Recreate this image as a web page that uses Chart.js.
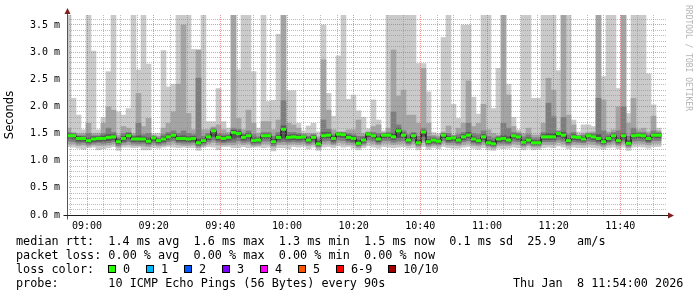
<!DOCTYPE html>
<html>
<head>
<meta charset="utf-8">
<script src="https://cdn.jsdelivr.net/npm/chart.js@4/dist/chart.umd.min.js"></script>
<style>
  html, body { margin: 0; padding: 0; background: #fff; }
  #wrap { position: relative; width: 697px; height: 297px; overflow: hidden; background: #fff; }
  #c { position: absolute; left: 0; top: 0; }
  .txt { position: absolute; font-family: 'DejaVu Sans Mono', monospace; font-size: 11.8px; line-height: 14px; color: #000; white-space: pre; }
  .sq { position: absolute; width: 6px; height: 6px; border: 1px solid #000; }
  #rrd { position: absolute; left: 693px; top: 5px; transform: rotate(90deg); transform-origin: 0 0;
         font-family: 'DejaVu Sans Mono', monospace; font-size: 8px; line-height: 10px; color: #b4b4b4; white-space: pre; }
</style>
</head>
<body>
<div id="wrap">
  <canvas id="c" width="697" height="297"></canvas>
  <div class="txt" style="left:16px;top:234px">median rtt:  1.4 ms avg  1.6 ms max  1.3 ms min  1.5 ms now  0.1 ms sd  25.9   am/s</div>
  <div class="txt" style="left:16px;top:248px">packet loss: 0.00 % avg  0.00 % max  0.00 % min  0.00 % now</div>
  <div class="txt" style="left:16px;top:262px">loss color:</div>
  <div id="losslegend"></div>
  <div class="txt" style="left:16px;top:276px">probe:       10 ICMP Echo Pings (56 Bytes) every 90s</div>
  <div class="txt" style="left:513px;top:276px">Thu Jan  8 11:54:00 2026</div>
  <div id="rrd">RRDTOOL / TOBI OETIKER</div>
</div>
<script>
// time axis: minutes after 08:54, one sample every 90 s
const START = '08:54';
const firstStepStart = -0.3;
const stepMin = 1.5;

// sorted ping values per step (ms): max, 9th, 8th, 7th, median, 4th, 3rd, 2nd, min
const pMax = [3.8,2.15,1.84,1.57,3.8,3.02,1.57,1.80,2.64,3.8,
  1.90,1.84,1.96,3.8,2.67,3.8,2.78,1.50,1.50,3.03,
  2.36,2.41,3.8,3.8,3.8,3.05,3.04,3.8,1.72,1.72,
  2.33,1.72,1.60,3.8,2.67,3.8,3.8,2.64,1.60,3.8,
  2.09,2.11,3.33,3.8,2.29,2.29,1.69,1.55,1.64,1.69,
  1.53,3.50,2.24,1.82,2.93,3.8,2.13,2.21,1.92,1.80,
  1.59,2.12,1.75,1.55,3.8,3.8,3.8,3.8,3.8,3.8,
  2.79,2.79,2.27,1.52,1.50,3.27,3.8,2.04,1.78,3.50,
  3.50,2.17,1.86,3.8,3.8,1.96,2.70,3.8,2.41,1.80,
  1.57,3.8,3.8,2.15,2.15,3.8,3.8,3.8,2.66,3.8,
  3.8,1.75,1.53,1.66,1.66,1.63,3.8,2.55,3.8,3.8,
  2.33,3.8,1.87,3.8,3.8,3.8,2.60,2.03,1.60];
const p9 = [1.60,1.52,1.50,1.50,1.69,1.50,1.50,1.69,1.99,1.93,
  1.47,1.63,1.60,1.50,2.24,1.63,1.78,1.47,1.45,1.60,
  1.69,1.90,2.41,3.50,1.87,1.57,3.04,1.57,1.57,1.62,
  1.66,1.57,1.52,3.8,1.78,1.57,1.93,1.69,1.50,1.72,
  1.72,1.57,1.75,3.8,1.69,1.66,1.60,1.50,1.50,1.50,
  1.44,2.86,1.93,1.57,1.53,1.53,1.57,1.57,1.75,1.50,
  1.53,1.63,1.66,1.52,1.60,3.04,2.19,2.30,1.84,1.84,
  1.69,2.70,1.69,1.47,1.45,1.53,1.64,1.47,1.60,1.69,
  2.47,1.63,1.69,2.04,1.57,1.50,1.47,3.8,2.21,1.63,
  1.53,1.50,1.60,1.47,1.47,1.69,2.52,2.30,1.56,3.8,
  1.84,1.66,1.47,1.50,1.52,1.53,3.8,2.12,1.53,1.57,
  1.99,3.8,1.69,2.15,1.57,1.60,1.53,1.82,1.55];
const p8 = [1.52,1.50,1.46,1.46,1.50,1.46,1.46,1.50,1.60,1.52,
  1.42,1.50,1.52,1.46,1.69,1.48,1.50,1.45,1.42,1.48,
  1.52,1.55,1.50,1.55,1.50,1.48,2.52,1.45,1.50,1.60,
  1.50,1.48,1.48,1.60,1.58,1.50,1.55,1.48,1.44,1.52,
  1.52,1.45,1.52,2.11,1.52,1.52,1.50,1.48,1.45,1.48,
  1.40,1.75,1.58,1.48,1.52,1.52,1.50,1.48,1.45,1.45,
  1.52,1.52,1.50,1.50,1.52,1.90,1.66,1.55,1.48,1.52,
  1.45,1.60,1.45,1.44,1.42,1.50,1.50,1.46,1.48,1.52,
  1.69,1.50,1.48,1.55,1.45,1.42,1.45,1.69,1.60,1.52,
  1.50,1.44,1.48,1.42,1.42,1.52,2.06,1.81,1.54,1.80,
  1.48,1.52,1.46,1.47,1.50,1.50,2.15,1.55,1.48,1.52,
  1.55,1.99,1.45,1.60,1.52,1.52,1.48,1.55,1.52];
const p7 = [1.50,1.49,1.45,1.44,1.42,1.44,1.44,1.46,1.48,1.48,
  1.40,1.45,1.50,1.44,1.46,1.44,1.42,1.44,1.40,1.44,
  1.48,1.50,1.45,1.46,1.44,1.45,1.40,1.41,1.47,1.57,
  1.46,1.45,1.46,1.56,1.54,1.47,1.50,1.42,1.41,1.49,
  1.49,1.40,1.47,1.64,1.47,1.48,1.47,1.46,1.42,1.46,
  1.36,1.52,1.52,1.45,1.51,1.50,1.47,1.45,1.38,1.42,
  1.51,1.49,1.44,1.49,1.50,1.50,1.60,1.51,1.42,1.50,
  1.38,1.56,1.39,1.41,1.39,1.50,1.45,1.44,1.42,1.48,
  1.52,1.44,1.41,1.48,1.38,1.36,1.43,1.46,1.44,1.49,
  1.47,1.38,1.42,1.37,1.37,1.48,1.50,1.50,1.52,1.52,
  1.41,1.48,1.45,1.43,1.48,1.47,1.48,1.40,1.44,1.49,
  1.42,1.50,1.37,1.50,1.50,1.49,1.44,1.50,1.50];
const median = [1.46,1.46,1.41,1.41,1.37,1.40,1.41,1.41,1.43,1.44,
  1.35,1.41,1.46,1.40,1.40,1.40,1.36,1.42,1.37,1.40,
  1.44,1.47,1.41,1.41,1.40,1.41,1.33,1.37,1.44,1.55,
  1.43,1.41,1.43,1.52,1.50,1.43,1.46,1.37,1.38,1.46,
  1.46,1.35,1.43,1.58,1.43,1.44,1.43,1.44,1.38,1.43,
  1.31,1.46,1.47,1.41,1.49,1.48,1.43,1.41,1.32,1.38,
  1.49,1.46,1.40,1.47,1.47,1.44,1.55,1.47,1.38,1.46,
  1.33,1.53,1.35,1.38,1.36,1.47,1.41,1.42,1.38,1.44,
  1.47,1.40,1.37,1.44,1.33,1.31,1.40,1.41,1.38,1.46,
  1.44,1.34,1.38,1.33,1.33,1.44,1.44,1.44,1.50,1.47,
  1.37,1.44,1.43,1.40,1.46,1.44,1.41,1.35,1.41,1.46,
  1.37,1.46,1.32,1.46,1.47,1.46,1.41,1.47,1.47];
const p4 = [1.41,1.40,1.36,1.36,1.33,1.35,1.36,1.36,1.37,1.39,
  1.31,1.36,1.40,1.35,1.35,1.35,1.32,1.37,1.33,1.35,
  1.39,1.42,1.36,1.36,1.35,1.36,1.29,1.33,1.39,1.45,
  1.38,1.36,1.38,1.40,1.43,1.38,1.40,1.33,1.34,1.41,
  1.41,1.31,1.38,1.40,1.38,1.39,1.38,1.39,1.34,1.38,
  1.28,1.41,1.42,1.36,1.44,1.43,1.38,1.36,1.29,1.34,
  1.44,1.41,1.35,1.42,1.42,1.39,1.42,1.42,1.34,1.41,
  1.30,1.45,1.31,1.34,1.32,1.42,1.36,1.37,1.34,1.39,
  1.42,1.35,1.33,1.39,1.30,1.28,1.35,1.36,1.34,1.41,
  1.39,1.30,1.34,1.30,1.30,1.39,1.39,1.39,1.44,1.41,
  1.33,1.39,1.38,1.36,1.41,1.39,1.36,1.31,1.36,1.41,
  1.33,1.40,1.29,1.41,1.42,1.41,1.36,1.42,1.42];
const p3 = [1.36,1.35,1.32,1.33,1.30,1.32,1.33,1.32,1.33,1.35,
  1.28,1.33,1.35,1.32,1.31,1.32,1.29,1.33,1.30,1.32,
  1.35,1.37,1.33,1.32,1.32,1.33,1.27,1.30,1.35,1.38,
  1.34,1.33,1.34,1.34,1.37,1.34,1.35,1.30,1.31,1.36,
  1.36,1.28,1.34,1.35,1.34,1.35,1.34,1.35,1.31,1.34,
  1.26,1.36,1.37,1.32,1.38,1.37,1.34,1.33,1.27,1.31,
  1.38,1.36,1.32,1.37,1.37,1.34,1.36,1.37,1.31,1.36,
  1.28,1.38,1.29,1.31,1.30,1.37,1.33,1.33,1.31,1.35,
  1.37,1.32,1.30,1.35,1.28,1.26,1.32,1.32,1.31,1.36,
  1.35,1.28,1.31,1.28,1.28,1.35,1.35,1.35,1.38,1.36,
  1.30,1.35,1.34,1.33,1.36,1.35,1.32,1.29,1.33,1.36,
  1.30,1.36,1.27,1.36,1.37,1.36,1.33,1.37,1.37];
const p2 = [1.31,1.31,1.28,1.29,1.27,1.29,1.28,1.28,1.29,1.31,
  1.25,1.29,1.30,1.28,1.28,1.27,1.26,1.29,1.27,1.28,
  1.30,1.32,1.29,1.28,1.28,1.29,1.24,1.27,1.31,1.33,
  1.29,1.29,1.30,1.29,1.32,1.30,1.31,1.27,1.28,1.31,
  1.31,1.25,1.30,1.30,1.30,1.31,1.30,1.31,1.28,1.30,
  1.23,1.31,1.32,1.29,1.33,1.32,1.30,1.29,1.24,1.28,
  1.33,1.31,1.29,1.32,1.32,1.30,1.31,1.32,1.28,1.31,
  1.25,1.33,1.26,1.28,1.27,1.32,1.29,1.29,1.28,1.30,
  1.32,1.28,1.27,1.30,1.25,1.23,1.28,1.28,1.28,1.31,
  1.30,1.25,1.28,1.25,1.25,1.30,1.30,1.30,1.33,1.31,
  1.27,1.30,1.30,1.29,1.31,1.30,1.28,1.26,1.29,1.31,
  1.27,1.31,1.24,1.31,1.32,1.31,1.29,1.32,1.32];
const pMin = [1.26,1.25,1.23,1.21,1.24,1.25,1.20,1.22,1.24,1.26,
  1.19,1.25,1.25,1.24,1.25,1.20,1.20,1.24,1.23,1.25,
  1.26,1.25,1.24,1.25,1.24,1.24,1.19,1.25,1.26,1.25,
  1.20,1.26,1.26,1.24,1.24,1.26,1.24,1.25,1.25,1.24,
  1.25,1.18,1.24,1.24,1.22,1.26,1.25,1.26,1.22,1.25,
  1.19,1.25,1.26,1.24,1.27,1.25,1.26,1.23,1.20,1.24,
  1.27,1.25,1.23,1.26,1.25,1.24,1.25,1.26,1.23,1.24,
  1.20,1.26,1.21,1.24,1.22,1.26,1.24,1.23,1.23,1.25,
  1.26,1.23,1.21,1.24,1.20,1.19,1.23,1.22,1.23,1.25,
  1.24,1.20,1.23,1.20,1.21,1.24,1.25,1.24,1.27,1.25,
  1.22,1.25,1.24,1.24,1.25,1.24,1.23,1.21,1.24,1.25,
  1.22,1.25,1.19,1.25,1.26,1.25,1.23,1.26,1.26];

// axis labels
const xTickLabels = ['09:00','09:20','09:40','10:00','10:20','10:40','11:00','11:20','11:40'];
const yTickValues = [0, 0.5, 1.0, 1.5, 2.0, 2.5, 3.0, 3.5];
const yTickLabels = ['0.0 m','0.5 m','1.0 m','1.5 m','2.0 m','2.5 m','3.0 m','3.5 m'];

// loss colour legend
const lossLabels = ['0','1','2','3','4','5','6-9','10/10'];
const lossColors = ['#26ff00','#00b8ff','#0059ff','#7e00ff','#ff00ff','#ff5500','#ff0000','#a10000'];

const toMin = s => { const [h, m] = s.split(':').map(Number); return h * 60 + m; };
const t0 = toMin(START);
const xLabelPos = xTickLabels.map(s => toMin(s) - t0);
const times = median.map((_, i) => firstStepStart + stepMin * (i + 0.5));

const band = (lo, hi) => lo.map((v, i) => ({ x: times[i], y: [v, hi[i]] }));
const barOpts = { barPercentage: 1, categoryPercentage: 1, grouped: false, borderWidth: 0 };

const xGrid = [];
for (let m = 1; m <= 180; m += 5) xGrid.push(m);
const yGrid = [];
for (let i = 0; i <= 36; i++) yGrid.push(i / 10);

const isXMajor = v => xLabelPos.some(p => Math.abs(p - v) < 1e-6);
const isYMajor = v => yTickValues.some(p => Math.abs(p - v) < 1e-6);
const gridColor = major => major ? 'rgba(222,79,79,0.6)' : 'rgba(143,143,143,0.6)';

const axisArrows = {
  id: 'axisArrows',
  afterDraw(chart) {
    const { ctx, chartArea: a } = chart;
    const l = Math.round(a.left) + 0.5, b = Math.round(a.bottom) + 0.5;
    ctx.save();
    ctx.lineWidth = 1;
    ctx.strokeStyle = '#555';
    ctx.beginPath();
    ctx.moveTo(l, b + 4); ctx.lineTo(l, a.top - 3);
    ctx.stroke();
    ctx.strokeStyle = '#1f1f1f';
    ctx.beginPath();
    ctx.moveTo(l - 4, b); ctx.lineTo(a.right + 2, b);
    ctx.stroke();
    ctx.fillStyle = '#801f1f';
    ctx.beginPath();
    ctx.moveTo(a.right + 7, b); ctx.lineTo(a.right + 1, b - 3); ctx.lineTo(a.right + 1, b + 3);
    ctx.closePath(); ctx.fill();
    ctx.beginPath();
    ctx.moveTo(l, a.top - 7); ctx.lineTo(l - 3, a.top - 1); ctx.lineTo(l + 3, a.top - 1);
    ctx.closePath(); ctx.fill();
    ctx.restore();
  }
};

new Chart(document.getElementById('c'), {
  type: 'bar',
  data: {
    datasets: [
      { data: band(pMin, pMax), backgroundColor: '#cacaca', order: 5, ...barOpts },
      { data: band(p2, p9), backgroundColor: '#a4a4a4', order: 4, ...barOpts },
      { data: band(p3, p8), backgroundColor: '#7e7e7e', order: 3, ...barOpts },
      { data: band(p4, p7), backgroundColor: '#555555', order: 2, ...barOpts },
      {
        type: 'line',
        data: median.map((v, i) => ({ x: times[i], y: v })),
        borderColor: '#000',
        borderWidth: 1,
        stepped: 'middle',
        pointStyle: 'line',
        pointRadius: 2.5,
        pointHoverRadius: 2.5,
        pointBorderColor: lossColors[0],
        pointBackgroundColor: lossColors[0],
        pointBorderWidth: 3,
        order: 1
      }
    ]
  },
  options: {
    responsive: false,
    animation: false,
    devicePixelRatio: 1,
    layout: { padding: { top: 15, right: 30, left: 0, bottom: 0 } },
    plugins: { legend: { display: false }, tooltip: { enabled: false } },
    scales: {
      x: {
        type: 'linear',
        min: 0,
        max: 180,
        offset: false,
        afterBuildTicks: s => { s.ticks = xGrid.map(v => ({ value: v })); },
        afterFit: s => { s.height = 82; },
        ticks: {
          autoSkip: false, minRotation: 0, maxRotation: 0, padding: 5,
          color: '#000',
          font: { family: 'DejaVu Sans Mono', size: 10 },
          callback: v => {
            const i = xLabelPos.findIndex(p => Math.abs(p - v) < 1e-6);
            return i >= 0 ? xTickLabels[i] : '';
          }
        },
        grid: {
          z: 1, offset: false, drawTicks: false, lineWidth: 1,
          color: ctx => gridColor(isXMajor(ctx.tick.value))
        },
        border: { display: false, dash: [1, 1] }
      },
      y: {
        min: 0,
        max: 3.684,
        afterBuildTicks: s => { s.ticks = yGrid.map(v => ({ value: v })); },
        afterFit: s => { s.width = 67; },
        ticks: {
          autoSkip: false, padding: 7,
          color: '#000',
          font: { family: 'DejaVu Sans Mono', size: 10 },
          callback: v => {
            const i = yTickValues.findIndex(p => Math.abs(p - v) < 1e-6);
            return i >= 0 ? yTickLabels[i] : '';
          }
        },
        grid: {
          z: 1, drawTicks: false, lineWidth: 1,
          color: ctx => gridColor(isYMajor(ctx.tick.value))
        },
        border: { display: false, dash: [1, 1] },
        title: {
          display: true, text: 'Seconds', color: '#000',
          font: { family: 'DejaVu Sans', size: 11.5 },
          padding: { top: 3, bottom: 0 }
        }
      }
    }
  },
  plugins: [axisArrows]
});

// loss colour legend row
const leg = document.getElementById('losslegend');
let lx = 108;
lossLabels.forEach((lab, i) => {
  const sq = document.createElement('div');
  sq.className = 'sq';
  sq.style.left = lx + 'px';
  sq.style.top = '265px';
  sq.style.background = lossColors[i];
  leg.appendChild(sq);
  const t = document.createElement('div');
  t.className = 'txt';
  t.style.left = (lx + 15) + 'px';
  t.style.top = '262px';
  t.textContent = lab;
  leg.appendChild(t);
  lx += 15 + lab.length * 7.1 + 15.9;
});
</script>
</body>
</html>
